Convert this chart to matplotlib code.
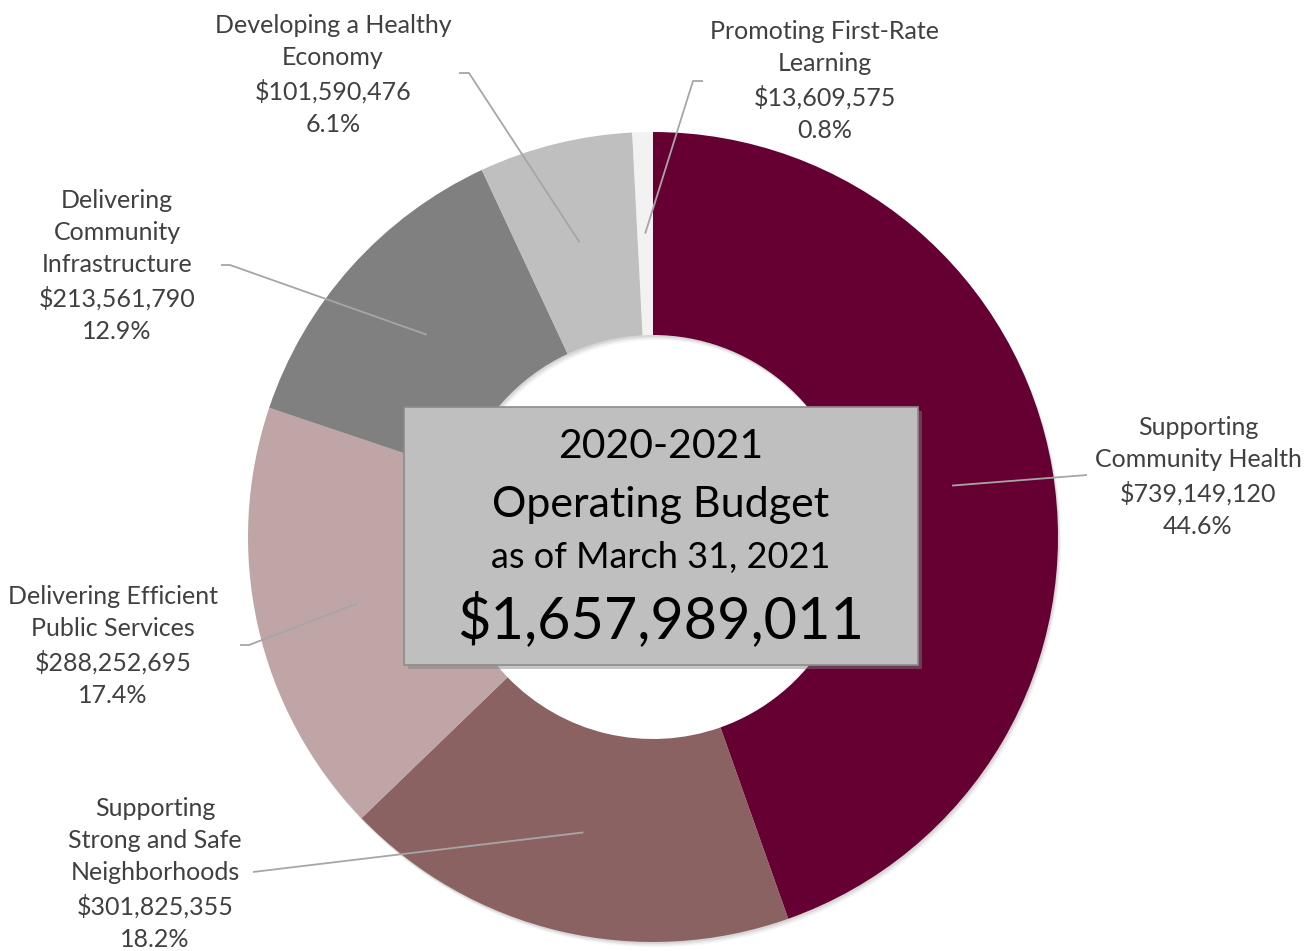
import numpy as np
import matplotlib.pyplot as plt
from matplotlib.patches import Rectangle, Wedge

plt.rcParams['font.family'] = ['Lato', 'DejaVu Sans']

# Operating budget by program area (clockwise from 12 o'clock)
programs = ['Supporting\nCommunity Health',
            'Supporting\nStrong and Safe\nNeighborhoods',
            'Delivering Efficient\nPublic Services',
            'Delivering\nCommunity\nInfrastructure',
            'Developing a Healthy\nEconomy',
            'Promoting First-Rate\nLearning']
amounts = [739149120, 301825355, 288252695, 213561790, 101590476, 13609575]
colors = ['#660033', '#8b6262', '#bfa5a5', '#808080', '#bfbfbf', '#f2f2f2']

fiscal_year = '2020-2021'
as_of = 'as of March 31, 2021'

W, H = 1315, 951
CX, CY = 653, H - 537
R_OUT, R_W = 405, 203

# label block centre, leader elbow and leader end (pixel coords, y from top)
label_xy = [(1198, 477), (155, 874), (113, 646), (117, 266), (333, 75), (825, 81)]
elbow_xy = [(1087, 475), (253, 872), (249, 645), (230, 265), (469, 73), (693, 81)]
end_xy = [(1087, 475), (253, 872), (240, 645), (221, 265), (459, 73), (703, 81)]

fig = plt.figure(figsize=(W / 100, H / 100), dpi=100)
ax = fig.add_axes([0, 0, 1, 1])

# soft drop shadow under the ring
for k, a in [(5, 0.04), (3.5, 0.05), (2, 0.07)]:
    ax.add_patch(Wedge((CX + k * 0.6, CY - k), R_OUT, 0, 360, width=R_W,
                       facecolor='black', alpha=a, linewidth=0, zorder=0))

wedges, _ = ax.pie(amounts, colors=colors, startangle=90, counterclock=False,
                   radius=R_OUT, center=(CX, CY),
                   wedgeprops=dict(width=R_W, linewidth=0))
for w in wedges:
    w.set_zorder(1)

total = sum(amounts)
r_mid = R_OUT - R_W / 2
for w, name, amt, lxy, exy, fxy in zip(wedges, programs, amounts,
                                      label_xy, elbow_xy, end_xy):
    mid = np.deg2rad((w.theta1 + w.theta2) / 2)
    ax_x = CX + r_mid * np.cos(mid)
    ax_y = CY + r_mid * np.sin(mid)
    ax.plot([ax_x, exy[0], fxy[0]], [ax_y, H - exy[1], H - fxy[1]],
            color='#a6a6a6', lw=1.3, zorder=2, solid_capstyle='butt')
    txt = f'{name}\n${amt:,.0f}\n{amt / total * 100:.1f}%'
    ax.text(lxy[0], H - lxy[1], txt, ha='center', va='center',
            fontsize=18, color='#404040', linespacing=1.48, zorder=3)

# centre box with the total
bx0, bx1, by0, by1 = 404, 918, 407, 665
ax.add_patch(Rectangle((bx0 + 4, H - by1 - 4), bx1 - bx0, by1 - by0,
                       facecolor='#7f7f7f', alpha=0.45, linewidth=0, zorder=4))
ax.add_patch(Rectangle((bx0, H - by1), bx1 - bx0, by1 - by0,
                       facecolor='#bfbfbf', edgecolor='#8c8c8c', lw=1.2, zorder=5))
bmx = 661
ax.text(bmx, H - 458, fiscal_year, ha='center', va='baseline',
        fontsize=29.5, color='black', zorder=6)
ax.text(bmx, H - 517, 'Operating Budget', ha='center', va='baseline',
        fontsize=31, color='black', zorder=6)
ax.text(bmx, H - 568, as_of, ha='center', va='baseline',
        fontsize=26, color='black', zorder=6)
ax.text(bmx, H - 638, f'${total:,.0f}', ha='center', va='baseline',
        fontsize=41.5, color='black', zorder=6)

ax.set_xlim(0, W)
ax.set_ylim(0, H)
ax.set_aspect('auto')
ax.set_axis_off()

fig.savefig('out.png', dpi=100, facecolor='white')
